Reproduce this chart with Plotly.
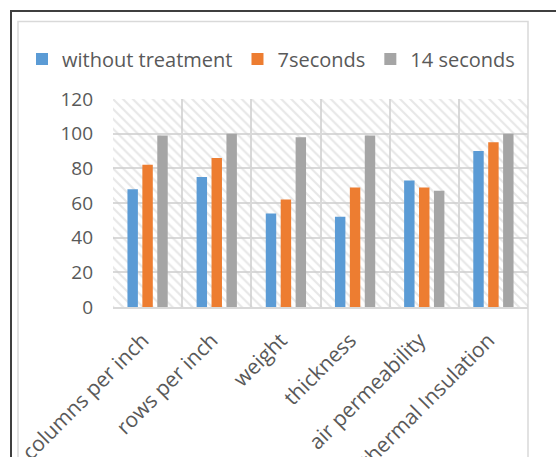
import plotly.graph_objects as go

# Fabric properties measured after each treatment duration
categories = ["columns per inch", "rows per inch", "weight", "thickness",
              "air permeability", "thermal Insulation"]
without_treatment = [68, 75, 54, 52, 73, 90]
seconds_7 = [82, 86, 62, 69, 69, 95]
seconds_14 = [99, 100, 98, 99, 67, 100]
y_ticks = [0, 20, 40, 60, 80, 100, 120]

series = [
    ("without treatment", without_treatment, "#5B9BD5"),
    ("7seconds", seconds_7, "#ED7D31"),
    ("14 seconds", seconds_14, "#A5A5A5"),
]

W, H = 556, 457
M_L, M_R, M_T, M_B = 113, 28, 99, 150
PW, PH = W - M_L - M_R, H - M_T - M_B


def px_x(x):
    return (x - M_L) / PW


def px_y(y):
    return (H - M_B - y) / PH


TEXT = "#595959"
GRID = "#D9D9D9"
FONT = "Open Sans"

fig = go.Figure()

# hatched plot-area background, one full-width cell per category
fig.add_trace(go.Bar(
    x=categories, y=[y_ticks[-1]] * len(categories),
    width=1, offset=-0.5,
    marker=dict(color="rgba(0,0,0,0)", line=dict(width=0),
                pattern=dict(shape="\\", fgcolor="#CFCFCF",
                             bgcolor="rgba(0,0,0,0)", size=7, solidity=0.3)),
    showlegend=False, hoverinfo="skip",
))

for name, vals, color in series:
    fig.add_trace(go.Bar(
        x=categories, y=vals, name=name,
        marker=dict(color=color, line=dict(width=0)),
    ))

fig.update_layout(
    width=W, height=H,
    margin=dict(l=M_L, r=M_R, t=M_T, b=M_B),
    paper_bgcolor="white", plot_bgcolor="white",
    barmode="group", bargap=0.353, bargroupgap=0.3,
    font=dict(family=FONT, size=19, color=TEXT),
    legend=dict(orientation="h", x=px_x(22), xanchor="left",
                y=px_y(59), yanchor="middle",
                font=dict(family=FONT, size=20, color=TEXT),
                bgcolor="rgba(0,0,0,0)", itemclick=False),
    shapes=[
        # outer frame
        dict(type="rect", xref="paper", yref="paper",
             x0=px_x(11), x1=px_x(W + 40), y0=px_y(11), y1=px_y(H + 40),
             line=dict(color="#3F3F3F", width=2), layer="below"),
        # chart area border
        dict(type="rect", xref="paper", yref="paper",
             x0=px_x(18), x1=px_x(528), y0=px_y(21.5), y1=px_y(H + 40),
             line=dict(color=GRID, width=1.5), layer="below"),
    ],
)

fig.update_xaxes(
    type="category", tickson="boundaries", ticks="",
    showgrid=True, gridcolor=GRID, gridwidth=1.5,
    showline=True, linecolor=GRID, linewidth=1.5,
    tickangle=-45, automargin=False,
    ticklabelstandoff=11, ticklabelshift=-5,
    tickfont=dict(family=FONT, size=21, color=TEXT),
)
fig.update_yaxes(
    range=[0, 120], tickvals=y_ticks, ticks="",
    showgrid=True, gridcolor=GRID, gridwidth=1.5,
    zeroline=False, showline=False, automargin=False,
    ticklabelstandoff=19,
    tickfont=dict(family=FONT, size=19, color=TEXT),
)

fig.write_html("out.html")
